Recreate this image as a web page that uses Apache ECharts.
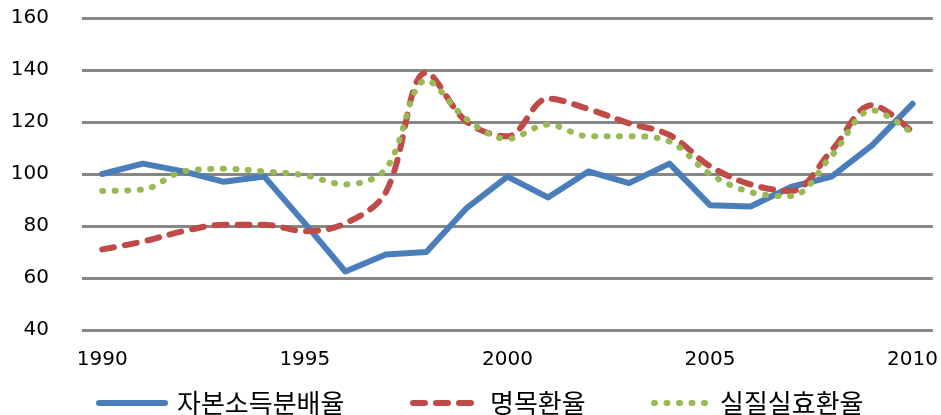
<!DOCTYPE html>
<html>
<head>
<meta charset="utf-8">
<script src="https://cdn.jsdelivr.net/npm/echarts@6/dist/echarts.min.js"></script>
<style>
  html, body { margin: 0; padding: 0; background: #fff; }
  #chart { width: 941px; height: 415px; }
</style>
</head>
<body>
<div id="chart"></div>
<script>
const years = ['1990', '1991', '1992', '1993', '1994', '1995', '1996', '1997', '1998', '1999', '2000',
  '2001', '2002', '2003', '2004', '2005', '2006', '2007', '2008', '2009', '2010'];

// 자본소득분배율
const capitalShare = [100, 104, 101, 97, 99, 81, 62.5, 69, 70, 87, 99,
  91, 101, 96.5, 104, 88, 87.5, 95, 99, 111, 127];

// 명목환율
const nominalRate = [71, 74, 78, 80.5, 80.5, 78, 81, 93, 139, 120, 114.5,
  129, 125, 119.5, 115, 103, 96, 93.5, 109, 126.5, 116];

// 실질실효환율
const realEffRate = [93.5, 94, 101, 102, 101, 99.5, 96, 102, 136, 121, 113.5,
  119, 114.5, 114.5, 112.5, 100, 93, 91.5, 107, 124.5, 115.5];

const chart = echarts.init(document.getElementById('chart'));

const numFont = { fontFamily: 'DejaVu Sans', fontSize: 20, color: '#000' };

// one legend per entry so each can sit where the original has it
function legendItem(name, left, width, textPad) {
  return {
    data: [name],
    top: 385,
    left: left,
    itemWidth: width,
    itemHeight: 26,
    itemStyle: { opacity: 0 },
    lineStyle: { width: 'inherit' },
    textStyle: { fontFamily: 'Noto Sans CJK KR', fontSize: 26, color: '#000', padding: [0, 0, 0, textPad] }
  };
}

chart.setOption({
  animation: false,
  grid: { left: 82, right: 8, top: 18, bottom: 85 },
  xAxis: {
    type: 'category',
    data: years,
    boundaryGap: true,
    axisLine: { show: false },
    axisTick: { show: false },
    axisLabel: { ...numFont, interval: 4, margin: 20 }
  },
  yAxis: {
    type: 'value',
    min: 40,
    max: 160,
    interval: 20,
    axisLine: { show: false },
    axisTick: { show: false },
    axisLabel: { ...numFont, margin: 33 },
    splitLine: { lineStyle: { color: '#878787', width: 3 } }
  },
  legend: [
    legendItem('자본소득분배율', 91, 66, 7),
    legendItem('명목환율', 405, 60, 12),
    legendItem('실질실효환율', 646, 53, 8)
  ],
  series: [
    {
      name: '자본소득분배율',
      type: 'line',
      data: capitalShare,
      showSymbol: false,
      z: 3,
      lineStyle: { color: '#4a7ebb', width: 6, cap: 'round', join: 'round' },
      itemStyle: { color: '#4a7ebb' }
    },
    {
      name: '명목환율',
      type: 'line',
      data: nominalRate,
      showSymbol: false,
      smooth: 0.35,
      z: 4,
      lineStyle: { color: '#be4b48', width: 6, type: [12, 11], cap: 'round' },
      itemStyle: { color: '#be4b48' }
    },
    {
      name: '실질실효환율',
      type: 'line',
      data: realEffRate,
      showSymbol: false,
      smooth: 0.35,
      z: 5,
      lineStyle: { color: '#98b954', width: 6, type: [1, 11.5], cap: 'round' },
      itemStyle: { color: '#98b954' }
    }
  ]
});
</script>
</body>
</html>
